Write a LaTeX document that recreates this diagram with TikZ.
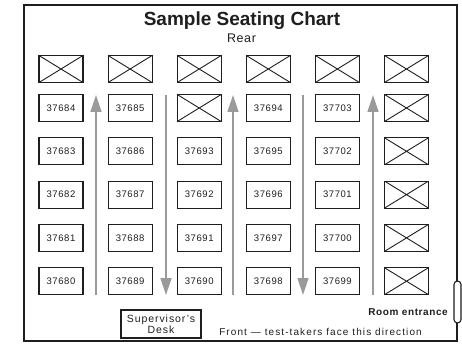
\documentclass[tikz,border=0pt]{standalone}
\usepackage{fontspec}
\setmainfont{Liberation Sans}
\usetikzlibrary{arrows.meta}
\definecolor{aisle}{HTML}{9A9A9A}
\definecolor{ink}{HTML}{1E1E1E}
\tikzset{
  seat/.style={draw=ink, line width=1.1pt, minimum width=44pt, minimum height=27pt,
    inner sep=0pt, text=ink, font=\fontsize{9.5}{11}\selectfont\addfontfeature{LetterSpace=6}},
  noseat/.style={seat, path picture={
    \draw[ink, line width=0.9pt] (path picture bounding box.north west) -- (path picture bounding box.south east)
      (path picture bounding box.north east) -- (path picture bounding box.south west);}},
  aislearrow/.style={draw=aisle, line width=1.5pt, -{Triangle[length=17pt,width=11pt]}, shorten >=0pt},
}
\def\xmark{X}
\begin{document}
\begin{tikzpicture}[x=1pt,y=-1pt]
\useasboundingbox (0,0) rectangle (462,344);
% frame
\draw[ink, line width=1.2pt] (24,5) rectangle (457,341);
\node[draw=ink, fill=white, line width=1.1pt, rounded corners=3.5pt, minimum width=7pt,
  minimum height=42pt, inner sep=0pt] (door) at (457.5,302) {};
% titles
\node[anchor=base, text=ink, inner sep=0pt, font=\fontsize{19}{22}\selectfont\bfseries] (title) at (242,25.5) {Sample Seating Chart};
\node[anchor=base, text=ink, inner sep=0pt, font=\fontsize{12.5}{14}\selectfont\addfontfeature{LetterSpace=5}] (rear) at (241.5,43) {Rear};
% rear row of empty seats
\foreach \i in {0,...,5} {
  \node[noseat] (r0c\i) at (61+69.1*\i,69) {};
}
% seats
\foreach \col/\nums in {0/{37684,37683,37682,37681,37680},
                        1/{37685,37686,37687,37688,37689},
                        2/{X,37693,37692,37691,37690},
                        3/{37694,37695,37696,37697,37698},
                        4/{37703,37702,37701,37700,37699},
                        5/{X,X,X,X,X}} {
  \foreach \n [count=\r from 0] in \nums {
    \ifx\n\xmark
      \node[noseat] (s\col r\r) at (61+69.1*\col,108+43.3*\r) {};
    \else
      \node[seat] (s\col r\r) at (61+69.1*\col,108+43.3*\r) {\n};
    \fi
  }
}
% aisles
\foreach \k/\x in {1/96,2/166,3/233,4/303,5/373} {
  \coordinate (a\k top) at (\x,95);
  \coordinate (a\k bot) at (\x,295);
}
\draw[aislearrow] (a1bot) -- (a1top);
\draw[aislearrow] (a2top) -- (a2bot);
\draw[aislearrow] (a3bot) -- (a3top);
\draw[aislearrow] (a4top) -- (a4bot);
\draw[aislearrow] (a5bot) -- (a5top);
% supervisor desk
\node[draw=ink, line width=1.1pt, minimum width=80pt, minimum height=28pt, inner sep=0pt,
  align=center, text=ink, font=\fontsize{10.5}{10.5}\selectfont\addfontfeature{LetterSpace=9}] (desk) at (161,324) {Supervisor's\\Desk};
% labels
\node[anchor=base east, inner sep=0pt, text=ink, font=\fontsize{10}{11}\selectfont\bfseries\addfontfeature{LetterSpace=6}] (entrance) at (448,315) {Room entrance};
\node[anchor=base, inner sep=0pt, text=ink, font=\fontsize{10}{11}\selectfont\addfontfeature{LetterSpace=11}] (front) at (320.5,335.5) {Front — test-takers face this direction};
\end{tikzpicture}
\end{document}
